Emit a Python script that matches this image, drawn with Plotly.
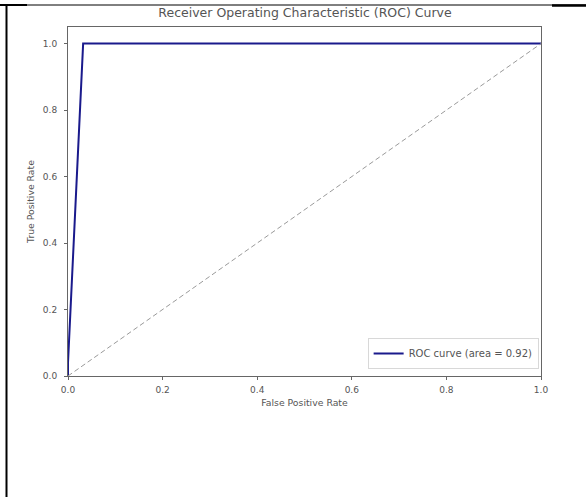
import plotly.graph_objects as go

# Data
fpr = [0.0, 0.0, 0.032, 1.0]
tpr = [0.0, 0.04, 1.0, 1.0]
diag_x = [0.0, 1.0]
diag_y = [0.0, 1.0]
roc_auc = 0.92
x_ticks = [0.0, 0.2, 0.4, 0.6, 0.8, 1.0]
y_ticks = [0.0, 0.2, 0.4, 0.6, 0.8, 1.0]
title_text = "Receiver Operating Characteristic (ROC) Curve"
x_title = "False Positive Rate"
y_title = "True Positive Rate"

W, H = 586, 497
L, R, T, B = 68, 45, 27, 121
pw, ph = W - L - R, H - T - B

def px(x):
    return (x - L) / pw

def py(y):
    return (H - B - y) / ph

fig = go.Figure()
fig.add_trace(go.Scatter(x=fpr, y=tpr, mode="lines",
                         line=dict(color="#1a1a8c", width=2),
                         name=f"ROC curve (area = {roc_auc:.2f})"))
fig.add_trace(go.Scatter(x=diag_x, y=diag_y, mode="lines",
                         line=dict(color="#9a9a9a", width=1, dash="5px,3px"),
                         showlegend=False))

txt = "#555555"
fig.update_layout(
    width=W, height=H,
    margin=dict(l=L, r=R, t=T, b=B),
    paper_bgcolor="white", plot_bgcolor="white",
    font=dict(family="DejaVu Sans", size=9, color=txt),
    title=dict(text=title_text, xref="container", x=305 / W, xanchor="center",
               y=1 - 13 / H, yanchor="middle",
               font=dict(size=12.5, color=txt)),
    showlegend=True,
    legend=dict(x=0.995, xanchor="right", y=0.02, yanchor="bottom",
                bgcolor="white", bordercolor="#d8d8d8", borderwidth=1,
                itemwidth=30,
                font=dict(size=10, color=txt)),
    xaxis=dict(range=[0, 1], tickvals=x_ticks, ticktext=[f"{v:.1f}" for v in x_ticks],
               showgrid=False, zeroline=False, showline=True, mirror=True,
               linecolor="#666666", linewidth=1, ticks="outside", ticklen=3,
               tickcolor="#666666", ticklabelstandoff=2,
               tickfont=dict(size=9, color=txt),
               title=dict(text=x_title, standoff=5, font=dict(size=9.3, color=txt))),
    yaxis=dict(range=[0, 1.05], tickvals=y_ticks, ticktext=[f"{v:.1f}" for v in y_ticks],
               showgrid=False, zeroline=False, showline=True, mirror=True,
               linecolor="#666666", linewidth=1, ticks="outside", ticklen=3,
               tickcolor="#666666", ticklabelstandoff=5,
               tickfont=dict(size=9, color=txt),
               title=dict(text=y_title, standoff=6, font=dict(size=9.3, color=txt))),
)

# Table-cell border lines around the screenshot
shapes = [
    dict(type="line", xref="paper", yref="paper", x0=px(0), x1=px(W), y0=py(5), y1=py(5),
         line=dict(color="black", width=1)),
    dict(type="line", xref="paper", yref="paper", x0=px(0), x1=px(27), y0=py(5), y1=py(5),
         line=dict(color="black", width=2)),
    dict(type="line", xref="paper", yref="paper", x0=px(552), x1=px(W), y0=py(5.5), y1=py(5.5),
         line=dict(color="black", width=2.5)),
    dict(type="line", xref="paper", yref="paper", x0=px(6.5), x1=px(6.5), y0=py(5), y1=py(H),
         line=dict(color="black", width=2)),
]
fig.update_layout(shapes=shapes)

fig.write_html("out.html")
